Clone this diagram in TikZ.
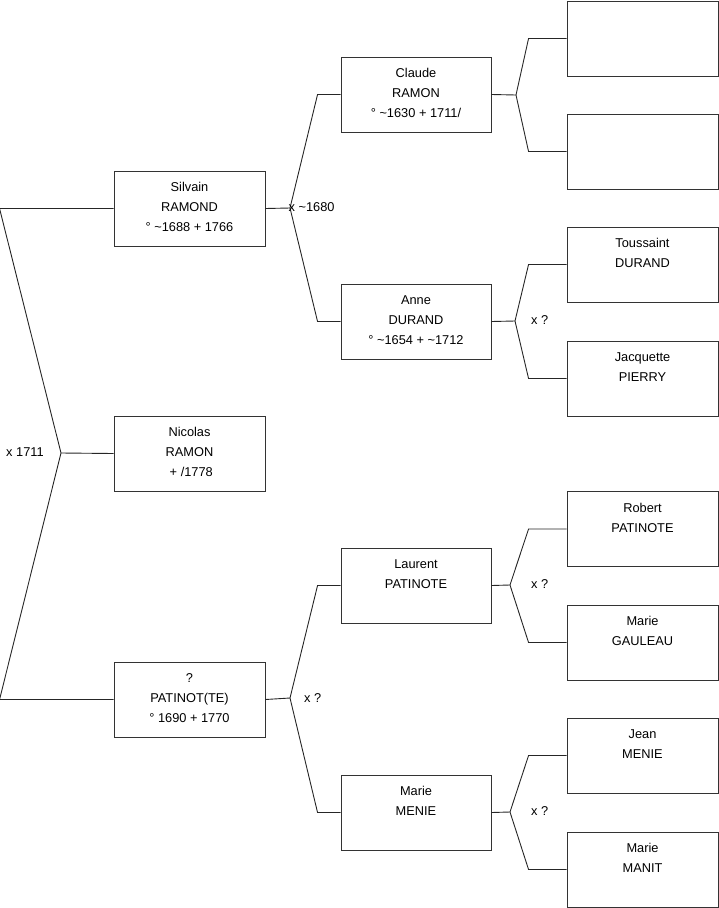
\documentclass[tikz,border=0pt]{standalone}
\usepackage{fontspec}
\setmainfont{Liberation Sans}

\begin{document}
\begin{tikzpicture}[x=1pt, y=-1pt,
    box/.style={draw=black!80, line width=0.9pt, minimum width=151pt, minimum height=75pt, inner sep=0pt},
    txt/.style={anchor=north, align=center, inner sep=0pt, yshift=-11.5pt, font=\fontsize{12.8}{20}\selectfont},
    note/.style={anchor=west, inner sep=0pt, font=\fontsize{12.8}{14}\selectfont},
    link/.style={draw=black!85, line width=0.9pt}]
    \useasboundingbox (0,0) rectangle (719,908);

    % 第一列
    \node[box] (nicolas) at (189.5,453.5) {};
    \node[txt] (nicolas-t) at (nicolas.north) {Nicolas\\RAMON\\\ + /1778};
    \node[box] (silvain) at (189.5,208.5) {};
    \node[txt] (silvain-t) at (silvain.north) {Silvain\\RAMOND\\° \textasciitilde1688 + 1766};
    \node[box] (patinot) at (189.5,699.5) {};
    \node[txt] (patinot-t) at (patinot.north) {?\\PATINOT(TE)\\° 1690 + 1770};

    % 第二列
    \node[box, minimum width=150pt] (claude) at (416,94.5) {};
    \node[txt] (claude-t) at (claude.north) {Claude\\RAMON\\° \textasciitilde1630 + 1711/};
    \node[box, minimum width=150pt] (anne) at (416,321.5) {};
    \node[txt] (anne-t) at (anne.north) {Anne\\DURAND\\° \textasciitilde1654 + \textasciitilde1712};
    \node[box, minimum width=150pt] (laurent) at (416,585.5) {};
    \node[txt] (laurent-t) at (laurent.north) {Laurent\\PATINOTE};
    \node[box, minimum width=150pt] (menie) at (416,812.5) {};
    \node[txt] (menie-t) at (menie.north) {Marie\\MENIE};

    % 第三列
    \node[box] (claude-f) at (642.5,38.5) {};
    \node[box] (claude-m) at (642.5,151.5) {};
    \node[box] (toussaint) at (642.5,264.5) {};
    \node[txt] (toussaint-t) at (toussaint.north) {Toussaint\\DURAND};
    \node[box] (jacquette) at (642.5,378.5) {};
    \node[txt] (jacquette-t) at (jacquette.north) {Jacquette\\PIERRY};
    \node[box] (robert) at (642.5,529) {};
    \node[txt] (robert-t) at (robert.north) {Robert\\PATINOTE};
    \node[box] (gauleau) at (642.5,642.5) {};
    \node[txt] (gauleau-t) at (gauleau.north) {Marie\\GAULEAU};
    \node[box] (jean) at (642.5,755.5) {};
    \node[txt] (jean-t) at (jean.north) {Jean\\MENIE};
    \node[box] (manit) at (642.5,869.5) {};
    \node[txt] (manit-t) at (manit.north) {Marie\\MANIT};

    % 分叉点
    \coordinate (j0) at (61,453);
    \coordinate (j1) at (290,208);
    \coordinate (j2) at (290,698);
    \coordinate (j3) at (516,95);
    \coordinate (j4) at (515,321);
    \coordinate (j5) at (510,585);
    \coordinate (j6) at (510,812);

    % 连线
    \draw[link] (silvain.west) -- ([xshift=-114pt]silvain.west) -- (j0) -- ([xshift=-114pt]patinot.west) -- (patinot.west);
    \draw[link] (j0) -- (nicolas.west);
    \draw[link] (claude.west) -- ([xshift=-23pt]claude.west) -- (j1) -- ([xshift=-23pt]anne.west) -- (anne.west);
    \draw[link] (silvain.east) -- (j1);
    \draw[link] (laurent.west) -- ([xshift=-23pt]laurent.west) -- (j2) -- ([xshift=-23pt]menie.west) -- (menie.west);
    \draw[link] (patinot.east) -- (j2);
    \draw[link] (claude-f.west) -- ([xshift=-38pt]claude-f.west) -- (j3) -- ([xshift=-38pt]claude-m.west) -- (claude-m.west);
    \draw[link] (claude.east) -- (j3);
    \draw[link] (toussaint.west) -- ([xshift=-38pt]toussaint.west) -- (j4) -- ([xshift=-38pt]jacquette.west) -- (jacquette.west);
    \draw[link] (anne.east) -- (j4);
    \draw[link] (robert.west) -- ([xshift=-38pt]robert.west) -- (j5) -- ([xshift=-38pt]gauleau.west) -- (gauleau.west);
    \draw[link] (laurent.east) -- (j5);
    \draw[link] (jean.west) -- ([xshift=-38pt]jean.west) -- (j6) -- ([xshift=-38pt]manit.west) -- (manit.west);
    \draw[link] (menie.east) -- (j6);

    % 婚姻标注
    \node[note] (m0) at (6,452) {x 1711};
    \node[note] (m1) at (288.5,207) {x \textasciitilde1680};
    \node[note] (m2) at (304,698) {x ?};
    \node[note] (m3) at (531,320) {x ?};
    \node[note] (m4) at (531,584) {x ?};
    \node[note] (m5) at (531,811) {x ?};
\end{tikzpicture}
\end{document}
